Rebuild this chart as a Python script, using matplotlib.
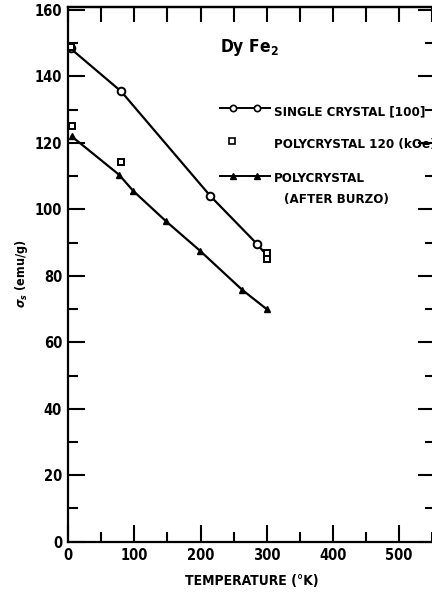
import matplotlib
matplotlib.use('Agg')
import matplotlib.pyplot as plt
from matplotlib.ticker import MultipleLocator

plt.rcParams['font.family'] = ['DejaVu Sans']
plt.rcParams['font.stretch'] = 'condensed'
plt.rcParams['font.weight'] = 'bold'
plt.rcParams['axes.labelweight'] = 'bold'
plt.rcParams['mathtext.fontset'] = 'dejavusans'

# single crystal [100]
single_T = [4, 80, 215, 285]
single_sigma = [148.5, 135.5, 104.0, 89.7]
single_curve_T = [0, 80, 215, 285, 294]
single_curve_sigma = [149.0, 135.5, 104.0, 89.7, 87.6]

# polycrystal at 120 kOe
poly_T = [4, 6, 79, 300, 300]
poly_sigma = [149.0, 125.0, 114.3, 87.0, 85.0]

# polycrystal (after Burzo)
burzo_T = [5, 77, 98, 148, 199, 263, 300]
burzo_sigma = [122.0, 110.4, 105.6, 96.4, 87.6, 75.8, 70.0]

W, H = 432, 595
fig = plt.figure(figsize=(W / 100, H / 100), dpi=100)
ax = fig.add_axes([68.3 / W, 53.3 / H, 366.9 / W, 535 / H])

ax.plot(single_curve_T, single_curve_sigma, color='black', lw=1.6)
ax.plot(single_T, single_sigma, 'o', ms=5.5, mfc='white', mec='black', mew=1.4)
ax.plot(poly_T, poly_sigma, 's', ms=5, mfc='white', mec='black', mew=1.4)
ax.plot(burzo_T, burzo_sigma, color='black', lw=1.6, marker='^', ms=5, mfc='black', mec='black')

ax.set_xlim(0, 555)
ax.set_ylim(0, 161)

ax.xaxis.set_major_locator(MultipleLocator(100))
ax.xaxis.set_minor_locator(MultipleLocator(50))
ax.yaxis.set_major_locator(MultipleLocator(20))
ax.yaxis.set_minor_locator(MultipleLocator(10))
ax.tick_params(which='both', direction='in', left=True, right=True, bottom=True, top=False,
               width=1.5, labelsize=10.5, pad=4.5)
ax.tick_params(which='major', length=12.5)
ax.tick_params(which='minor', length=7)
ax.set_xticks([0, 100, 200, 300, 400, 500])

top = ax.secondary_xaxis('top')
top.set_xticks(range(0, 551, 50))
top.tick_params(direction='in', length=11, width=1.5, labeltop=False)
top.spines['top'].set_linewidth(1.6)

for side in ['left', 'bottom', 'top', 'right']:
    ax.spines[side].set_linewidth(1.6)

ax.set_xlabel('TEMPERATURE (°K)', fontsize=10, labelpad=8)
ax.set_ylabel(r'$\sigma_s$ (emu/g)', fontsize=9, labelpad=3)

# compound name and key
ax.text(0.413, 0.916, r'Dy Fe$_2$', transform=ax.transAxes, fontsize=12.5, va='baseline')

ax.plot([0.4135, 0.5497], [0.810, 0.810], color='black', lw=1.4, transform=ax.transAxes, clip_on=False)
ax.plot([0.4497, 0.5151], [0.810, 0.810], 'o', ms=4.5, mfc='white', mec='black', mew=1.2,
        transform=ax.transAxes, clip_on=False)
ax.text(0.5615, 0.7976, 'SINGLE CRYSTAL [100]', transform=ax.transAxes, fontsize=9.5, va='baseline')

ax.plot([0.4470], [0.749], 's', ms=4.5, mfc='white', mec='black', mew=1.2,
        transform=ax.transAxes, clip_on=False)
ax.text(0.5615, 0.7353, 'POLYCRYSTAL 120 (kOe)', transform=ax.transAxes, fontsize=9.5, va='baseline')

ax.plot([0.4135, 0.5497], [0.684, 0.684], color='black', lw=1.4, transform=ax.transAxes, clip_on=False)
ax.plot([0.4497, 0.5151], [0.684, 0.684], '^', ms=4.5, mfc='black', mec='black',
        transform=ax.transAxes, clip_on=False)
ax.text(0.5615, 0.673, 'POLYCRYSTAL', transform=ax.transAxes, fontsize=9.5, va='baseline')
ax.text(0.5880, 0.6325, '(AFTER BURZO)', transform=ax.transAxes, fontsize=9.5, va='baseline')

fig.savefig('out.png', dpi=100)
